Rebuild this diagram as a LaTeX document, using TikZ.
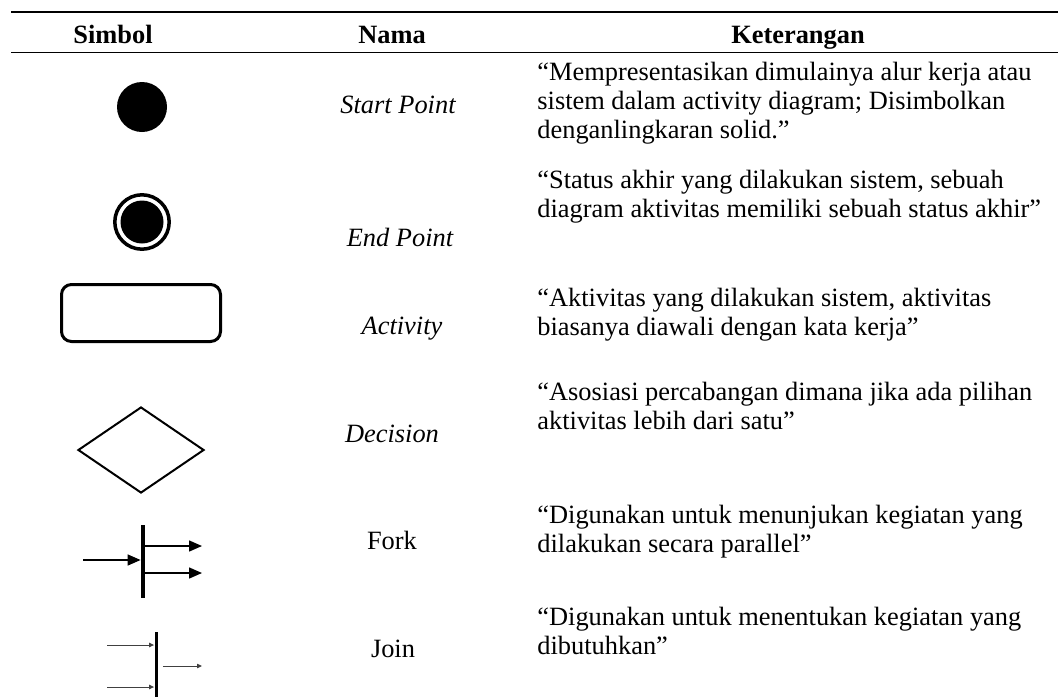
\documentclass[tikz,border=0pt]{standalone}
\usepackage{fontspec}
\setmainfont{Liberation Serif}
\usetikzlibrary{positioning,shapes.geometric,arrows.meta}

\begin{document}
\begin{tikzpicture}[
  x=0.5pt, y=-0.5pt,
  font=\fontsize{13.2}{14.5}\selectfont,
  txt/.style={inner sep=0pt},
  headlbl/.style={txt, anchor=base, font=\fontsize{13.2}{14.5}\selectfont\bfseries},
  namelbl/.style={txt, anchor=base},
  desc/.style={txt, anchor=base west, align=left},
  tablerule/.style={line width=0.9pt},
  startdot/.style={circle, fill, inner sep=0pt, minimum size=25pt},
  endring/.style={circle, draw, line width=1.75pt, inner sep=0pt, minimum size=27.2pt},
  enddot/.style={circle, fill, inner sep=0pt, minimum size=21.5pt},
  actbox/.style={draw, rounded corners=5pt, line width=1.5pt, minimum width=79.5pt, minimum height=28.5pt},
  decbox/.style={diamond, draw, line width=1pt, inner sep=0pt, minimum width=63pt, minimum height=43pt},
  syncbar/.style={fill, inner sep=0pt, minimum width=#1},
  forkarrow/.style={line width=0.75pt, -{Triangle[length=6.5pt,width=5.5pt]}},
  joinarrow/.style={line width=0.5pt, black!75, -{Triangle[length=2.5pt,width=2.2pt]}}
]
\useasboundingbox (0,0) rectangle (1058,696);

\draw[tablerule] (11,12) -- (1058,12);
\draw[tablerule] (11,52.5) -- (1058,52.5);

\node[headlbl] (hsimbol) at (113,43) {Simbol};
\node[headlbl] (hnama) at (392,43) {Nama};
\node[headlbl] (hket) at (798,43) {Keterangan};

\node[startdot] (start) at (142,107) {};
\node[namelbl] (nstart) at (398,113) {\itshape Start Point};
\node[desc] (dstart) at (537,138) {“Mempresentasikan dimulainya alur kerja atau\\sistem dalam activity diagram; Disimbolkan\\denganlingkaran solid.”};

\node[endring] (endring) at (142,222) {};
\node[enddot] (end) at (endring.center) {};
\node[namelbl] (nend) at (400,246) {\itshape End Point};
\node[desc] (dend) at (537,217) {“Status akhir yang dilakukan sistem, sebuah\\diagram aktivitas memiliki sebuah status akhir”};

\node[actbox] (act) at (141,313) {};
\node[namelbl] (nact) at (402,334) {\itshape Activity};
\node[desc] (dact) at (537,335) {“Aktivitas yang dilakukan sistem, aktivitas\\biasanya diawali dengan kata kerja”};

\node[decbox] (dec) at (141,450) {};
\node[namelbl] (ndec) at (392,442) {\itshape Decision};
\node[desc] (ddec) at (537,429) {“Asosiasi percabangan dimana jika ada pilihan\\aktivitas lebih dari satu”};

\node[syncbar=2pt, minimum height=36.5pt] (fork) at (143,561) {};
\coordinate (forkin) at (83,560);
\coordinate (forkouta) at (202,546);
\coordinate (forkoutb) at (202,573);
\draw[forkarrow] (forkin) -- (forkin -| fork.west);
\draw[forkarrow] (forkouta -| fork.east) -- (forkouta);
\draw[forkarrow] (forkoutb -| fork.east) -- (forkoutb);
\node[namelbl] (nfork) at (392,549) {Fork};
\node[desc] (dfork) at (537,552) {“Digunakan untuk menunjukan kegiatan yang\\dilakukan secara parallel”};

\node[syncbar=1.5pt, minimum height=35pt] (join) at (156,667) {};
\coordinate (joinina) at (107,645);
\coordinate (joininb) at (107,687);
\coordinate (joinout) at (202,666);
\draw[joinarrow] (joinina) -- (joinina -| join.west);
\draw[joinarrow] (joininb) -- (joininb -| join.west);
\draw[joinarrow] ([xshift=2.5pt]joinout -| join.east) -- (joinout);
\node[namelbl] (njoin) at (393,657) {Join};
\node[desc] (djoin) at (537,654) {“Digunakan untuk menentukan kegiatan yang\\dibutuhkan”};

\end{tikzpicture}
\end{document}
